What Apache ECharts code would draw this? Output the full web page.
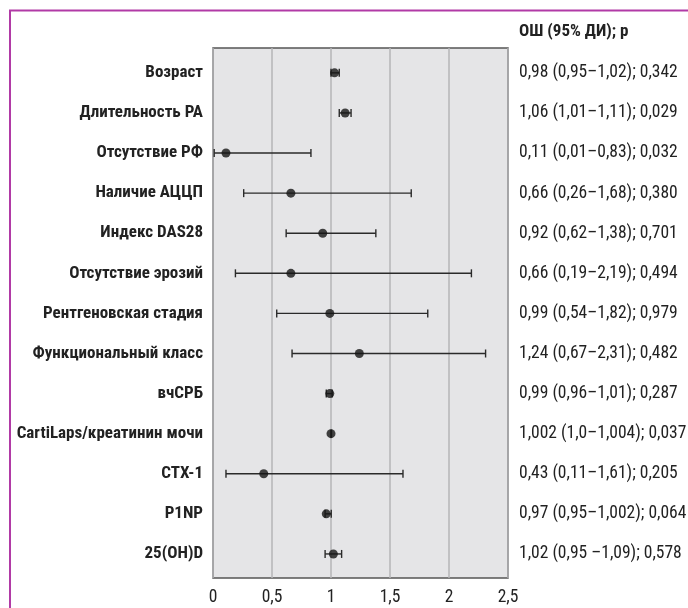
<!DOCTYPE html>
<html>
<head>
<meta charset="utf-8">
<script src="https://cdn.jsdelivr.net/npm/echarts@6/dist/echarts.min.js"></script>
<style>
  html, body { margin: 0; padding: 0; background: #fff; }
  #chart { width: 688px; height: 608px; }
</style>
</head>
<body>
<div id="chart"></div>
<script>
// строки сверху вниз
const factors = [
  'Возраст', 'Длительность РА', 'Отсутствие РФ', 'Наличие АЦЦП', 'Индекс DAS28',
  'Отсутствие эрозий', 'Рентгеновская стадия', 'Функциональный класс', 'вчСРБ',
  'CartiLaps/креатинин мочи', 'CTX-1', 'P1NP', '25(OH)D'
];
// положение точек и усов, как нарисовано
const oddsRatio = [1.03, 1.12, 0.11, 0.66, 0.93, 0.66, 0.99, 1.24, 0.99, 1.0, 0.43, 0.96, 1.02];
const ciLow = [1.0, 1.07, 0.01, 0.26, 0.62, 0.19, 0.54, 0.67, 0.96, 1.0, 0.11, 0.95, 0.95];
const ciHigh = [1.07, 1.17, 0.83, 1.68, 1.38, 2.19, 1.82, 2.31, 1.01, 1.004, 1.61, 1.002, 1.09];
const statText = [
  '0,98 (0,95–1,02); 0,342', '1,06 (1,01–1,11); 0,029', '0,11 (0,01–0,83); 0,032',
  '0,66 (0,26–1,68); 0,380', '0,92 (0,62–1,38); 0,701', '0,66 (0,19–2,19); 0,494',
  '0,99 (0,54–1,82); 0,979', '1,24 (0,67–2,31); 0,482', '0,99 (0,96–1,01); 0,287',
  '1,002 (1,0–1,004); 0,037', '0,43 (0,11–1,61); 0,205', '0,97 (0,95–1,002); 0,064',
  '1,02 (0,95 –1,09); 0,578'
];
const xTicks = [0, 0.5, 1, 1.5, 2, 2.5];
const header = 'ОШ (95% ДИ); р';

const rows = factors.map((_, i) => i);
const font = '"Roboto Condensed", "Liberation Sans", sans-serif';
const ink = '#222';

const chart = echarts.init(document.getElementById('chart'));

const yBase = {
  type: 'value',
  inverse: true,
  min: -0.62,
  max: 12.6,
  axisLine: { show: false },
  axisTick: { show: false },
  splitLine: { show: false }
};

chart.setOption({
  animation: false,
  title: {
    text: header,
    left: 519,
    top: 23,
    padding: 0,
    textStyle: { fontFamily: font, fontSize: 17, fontWeight: 'bold', color: ink }
  },
  graphic: [{
    type: 'polyline',
    shape: { points: [[10, 608], [10, 10.5], [688, 10.5]] },
    style: { stroke: '#b13aa6', lineWidth: 2, fill: null }
  }],
  grid: {
    left: 213, top: 48, width: 295, height: 530,
    outerBoundsMode: 'none',
    show: true,
    backgroundColor: '#e5e5e7',
    borderColor: '#555',
    borderWidth: 1.5
  },
  xAxis: {
    type: 'value',
    min: 0,
    max: 2.5,
    interval: 0.5,
    axisLine: { show: false },
    axisTick: { show: false },
    splitLine: { show: true, lineStyle: { color: '#b5b5b7', width: 1.5 } },
    axisLabel: {
      margin: 11,
      customValues: xTicks,
      fontFamily: font, fontSize: 17.5, color: ink,
      formatter: (v) => String(v).replace('.', ',')
    }
  },
  yAxis: [
    Object.assign({}, yBase, {
      position: 'left',
      axisLabel: {
        customValues: rows,
        margin: 10,
        fontFamily: font, fontSize: 17, fontWeight: 'bold', color: ink,
        formatter: (v) => factors[v]
      }
    }),
    Object.assign({}, yBase, {
      position: 'right',
      axisLabel: {
        customValues: rows,
        margin: 11,
        align: 'left',
        fontFamily: font, fontSize: 17.5, color: ink,
        formatter: (v) => statText[v]
      }
    })
  ],
  series: [
    {
      type: 'custom',
      renderItem: (params, api) => {
        const lo = api.coord([api.value(0), api.value(2)]);
        const hi = api.coord([api.value(1), api.value(2)]);
        const h = 4;
        const style = { stroke: '#2a2a2a', lineWidth: 1.4 };
        return {
          type: 'group',
          children: [
            { type: 'line', shape: { x1: lo[0], y1: lo[1], x2: hi[0], y2: hi[1] }, style },
            { type: 'line', shape: { x1: lo[0], y1: lo[1] - h, x2: lo[0], y2: lo[1] + h }, style },
            { type: 'line', shape: { x1: hi[0], y1: hi[1] - h, x2: hi[0], y2: hi[1] + h }, style }
          ]
        };
      },
      encode: { x: [0, 1], y: 2 },
      data: rows.map((i) => [ciLow[i], ciHigh[i], i]),
      z: 2
    },
    {
      type: 'scatter',
      symbol: 'circle',
      symbolSize: 9,
      itemStyle: { color: '#151515' },
      data: rows.map((i) => [oddsRatio[i], i]),
      z: 3
    }
  ]
});
</script>
</body>
</html>
